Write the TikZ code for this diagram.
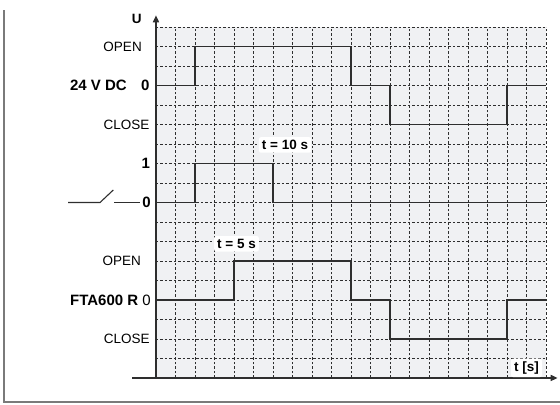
\documentclass[tikz,border=0pt]{standalone}
\usepackage{fontspec}
\setmainfont{Liberation Sans}
\usetikzlibrary{arrows.meta}
\definecolor{gridbg}{HTML}{F0F1F3}
\definecolor{ink}{HTML}{2E2E2E}
\definecolor{framegray}{HTML}{7A7A7A}
\begin{document}
\begin{tikzpicture}[x=19.5pt,y=19.5pt,
    lbl/.style={anchor=east,inner sep=0pt,font=\fontsize{13.5}{14}\selectfont},
    blbl/.style={lbl,font=\fontsize{15}{16}\selectfont\bfseries},
    sig/.style={ink,line width=1.9pt},
    gridln/.style={ink,line width=0.7pt,dash pattern=on 2.5pt off 2pt},
    tbox/.style={fill=white,rounded corners=2pt,inner sep=3pt,font=\fontsize{13.5}{14}\selectfont\bfseries}]
    \useasboundingbox (-8,-1.385) rectangle (20.72,19.385);
    \draw[framegray,line width=1.4pt] (-7.79,18.87) -- (-7.79,-1.23) -- (20.72,-1.23);
    % grid
    \fill[gridbg] (0,0) rectangle (20,18);
    \foreach \x in {1,...,20}{\draw[gridln] (\x,0) -- (\x,18);}
    \foreach \y in {1,...,18}{\draw[gridln] (0,\y) -- (20,\y);}
    % axes
    \coordinate (o) at (0,0); \coordinate (ytip) at (0,18.6);
    \coordinate (xst) at (-1.23,0); \coordinate (xtip) at (20.6,0);
    \draw[ink,line width=1.6pt,-{Triangle[length=7pt,width=6pt]}] (o) -- (ytip);
    \draw[ink,line width=1.6pt,-{Triangle[length=7pt,width=6pt]}] (xst) -- (xtip);
    \node[blbl,anchor=center,font=\fontsize{13.5}{14}\selectfont\bfseries] (u) at (-0.99,18.41) {U};
    % 24 V DC
    \node[lbl] (open1) at (-0.72,17) {OPEN};
    \node[blbl] (dc) at (-1.49,15) {24 V DC};
    \node[blbl] (zero1) at (-0.33,15) {0};
    \node[lbl] (close1) at (-0.33,13) {CLOSE};
    \draw[sig] (0,15) -- (2,15) -- (2,17) -- (10,17) -- (10,15) -- (12,15) -- (12,13) -- (18,13) -- (18,15) -- (20,15);
    % switch
    \node[blbl] (one2) at (-0.3,11) {1};
    \node[blbl] (zero2) at (-0.26,9) {0};
    \draw[ink,line width=1.1pt] (-4.51,9) -- (-2.87,9) -- (-2.19,9.64);
    \draw[ink,line width=1.1pt] (-2.15,9) -- (-0.82,9);
    \draw[sig] (0,9) -- (2,9) -- (2,11) -- (6,11) -- (6,9) -- (20,9);
    \node[tbox] (t10) at (6.62,11.95) {t = 10 s};
    % FTA600 R
    \node[lbl] (open3) at (-0.77,6) {OPEN};
    \node[blbl] (fta) at (-0.26,4) {FTA600 R\mdseries\ 0};
    \node[lbl] (close3) at (-0.31,2) {CLOSE};
    \draw[sig] (0,4) -- (4,4) -- (4,6) -- (10,6) -- (10,4) -- (12,4) -- (12,2) -- (18,2) -- (18,4) -- (20,4);
    \node[tbox] (t5) at (4.13,6.88) {t = 5 s};
    \node[tbox] (ts) at (19,0.52) {t [s]};
\end{tikzpicture}
\end{document}
